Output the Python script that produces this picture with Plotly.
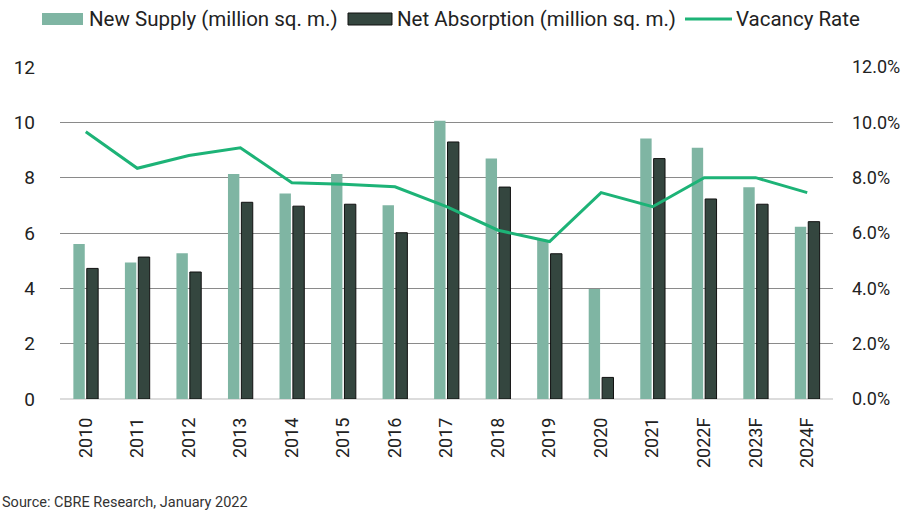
import plotly.graph_objects as go

years = ["2010", "2011", "2012", "2013", "2014", "2015", "2016", "2017",
         "2018", "2019", "2020", "2021", "2022F", "2023F", "2024F"]
new_supply = [5.6, 4.93, 5.27, 8.13, 7.43, 8.13, 7.0, 10.06, 8.69, 5.75, 3.98, 9.42, 9.08, 7.65, 6.23]
net_absorption = [4.72, 5.13, 4.59, 7.11, 6.97, 7.04, 6.01, 9.29, 7.66, 5.25, 0.78, 8.69, 7.23, 7.04, 6.41]
vacancy_rate = [9.66, 8.34, 8.8, 9.08, 7.82, 7.76, 7.67, 6.95, 6.1, 5.69, 7.46, 6.95, 8.0, 8.0, 7.46]
left_ticks = [0, 2, 4, 6, 8, 10, 12]
right_ticks = [0, 2, 4, 6, 8, 10, 12]
series_names = ["New Supply (million sq. m.)", "Net Absorption (million sq. m.)", "Vacancy Rate"]

FONT = "Roboto, Liberation Sans, sans-serif"
C_SUPPLY = "#7fb5a3"
C_ABS = "#34463f"
C_LINE = "#1db377"

W, H = 919, 515
ML, MR, MT, MB = 60, 86, 67, 116
PW, PH = W - ML - MR, H - MT - MB


def px(x):
    return (x - ML) / PW


def py(y):
    return (H - MB - y) / PH


fig = go.Figure()
fig.add_trace(go.Bar(x=years, y=new_supply, name=series_names[0],
                     marker=dict(color=C_SUPPLY, line=dict(width=0))))
fig.add_trace(go.Bar(x=years, y=net_absorption, name=series_names[1],
                     marker=dict(color=C_ABS, line=dict(color="#111", width=1))))
fig.add_trace(go.Scatter(x=years, y=vacancy_rate, name=series_names[2], yaxis="y2",
                         mode="lines", line=dict(color=C_LINE, width=3)))

# custom legend (wide swatches like the reference)
shapes = [
    dict(type="rect", xref="paper", yref="paper", x0=px(42), x1=px(83), y0=py(25), y1=py(13),
         fillcolor=C_SUPPLY, line=dict(width=0)),
    dict(type="rect", xref="paper", yref="paper", x0=px(348), x1=px(392), y0=py(25), y1=py(13),
         fillcolor=C_ABS, line=dict(color="#111", width=1)),
    dict(type="line", xref="paper", yref="paper", x0=px(685), x1=px(732), y0=py(19), y1=py(19),
         line=dict(color=C_LINE, width=3)),
]
leg_x = [87, 395, 734]
annotations = [dict(text=n, xref="paper", yref="paper", x=px(x), y=py(19), xanchor="left",
                    yanchor="middle", showarrow=False, font=dict(size=20.5, family=FONT, color="#222"))
               for n, x in zip(series_names, leg_x)]
annotations.append(dict(text="Source: CBRE Research, January 2022", xref="paper", yref="paper",
                        x=px(0), y=py(503), xanchor="left", yanchor="middle", showarrow=False,
                        font=dict(size=14.5, family=FONT, color="#333")))

fig.update_layout(
    width=W, height=H,
    margin=dict(l=ML, r=MR, t=MT, b=MB),
    paper_bgcolor="white", plot_bgcolor="white",
    barmode="group", bargap=0.48, bargroupgap=0.15,
    font=dict(family=FONT, color="#222", size=16),
    showlegend=False,
    xaxis=dict(type="category", tickangle=-90, showgrid=False, showline=False,
               ticks="", ticklabelstandoff=14,
               tickfont=dict(size=18, family=FONT, color="#222")),
    yaxis=dict(range=[0, 12], tickvals=left_ticks, ticktext=[str(v) for v in left_ticks],
               showgrid=True, gridcolor="#8a8a8a", gridwidth=1, zeroline=True,
               zerolinecolor="#dcdcdc", zerolinewidth=2, showline=False, ticks="",
               ticklabelstandoff=24, tickfont=dict(size=19, family=FONT, color="#222")),
    yaxis2=dict(range=[0, 12], overlaying="y", side="right", tickvals=right_ticks,
                ticktext=[f"{v:.1f}%" for v in right_ticks], showgrid=False, zeroline=False,
                showline=False, ticks="", ticklabelstandoff=18,
                tickfont=dict(size=18, family=FONT, color="#222")),
    shapes=shapes,
    annotations=annotations,
)

fig.write_html("out.html")
